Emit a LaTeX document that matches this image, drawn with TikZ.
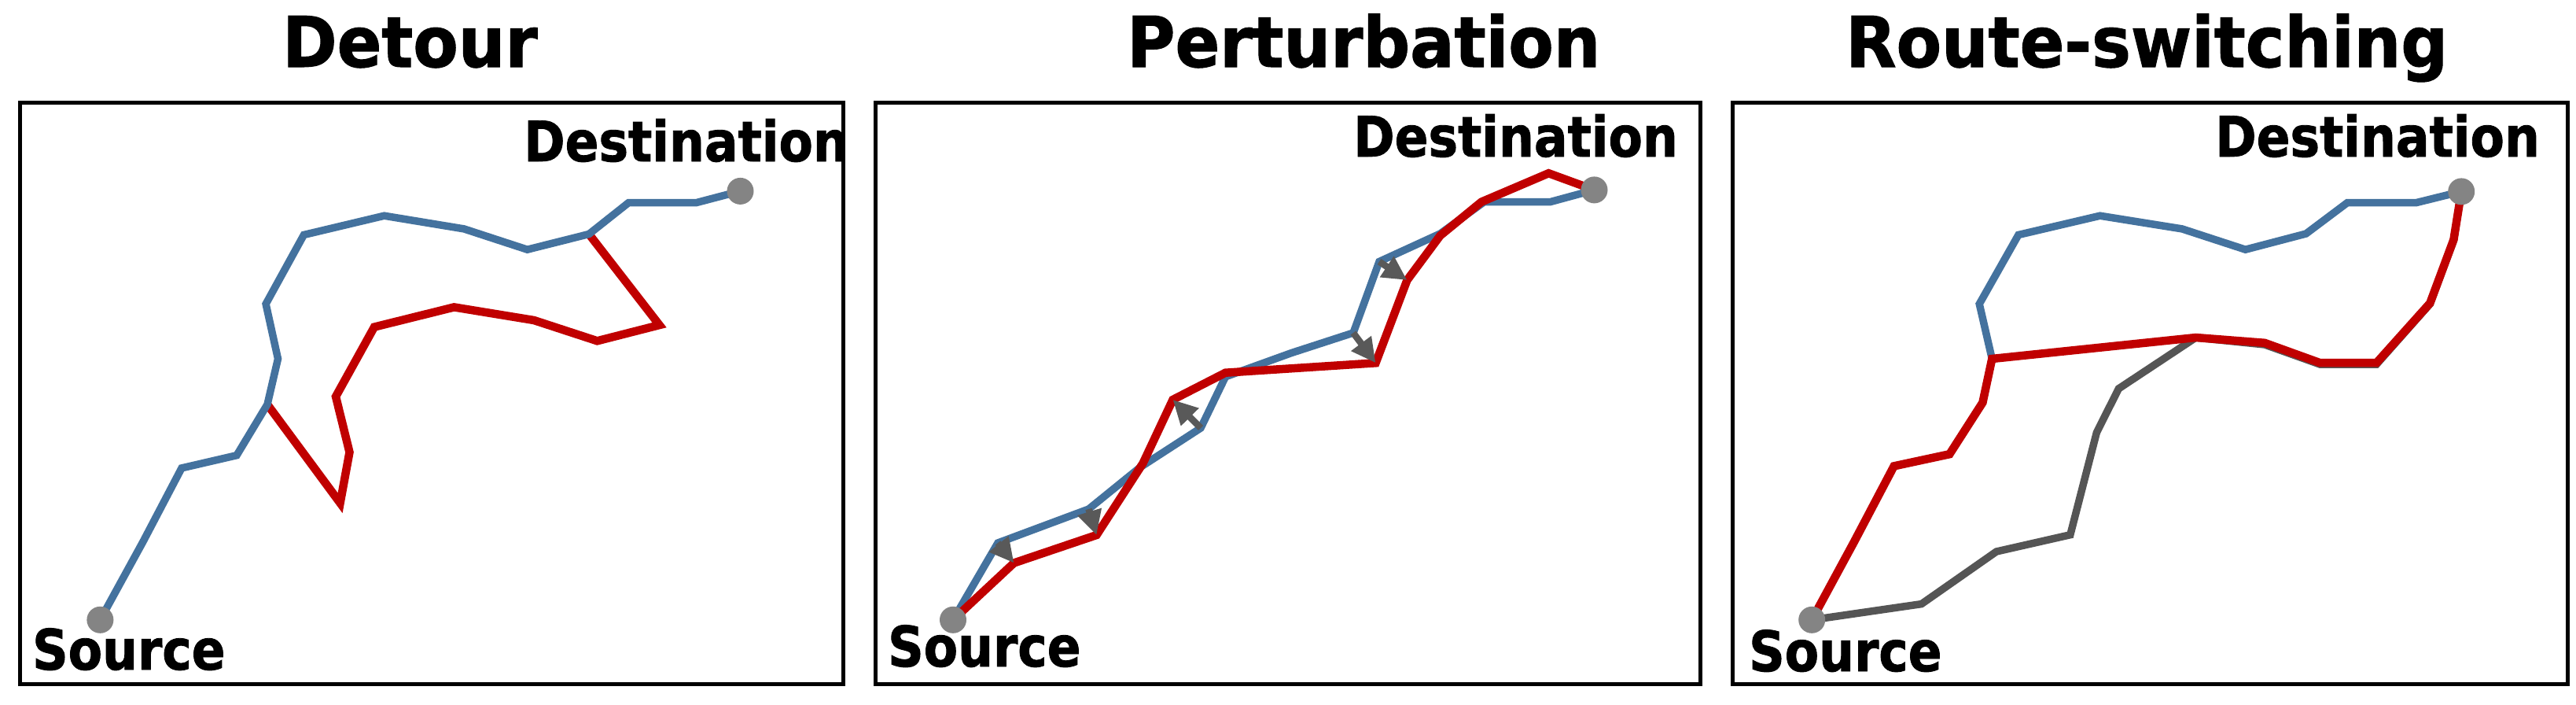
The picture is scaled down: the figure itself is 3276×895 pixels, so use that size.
\documentclass[tikz,border=0pt]{standalone}
\usepackage{fontspec}
\newfontfamily\titlefont[FakeStretch=0.94,BoldFeatures={FakeBold=1.2}]{DejaVu Sans}
\newfontfamily\labelfont[FakeStretch=0.89,BoldFeatures={FakeBold=1.2}]{DejaVu Sans}
\usetikzlibrary{arrows.meta}
\definecolor{pathblue}{RGB}{68,114,158}
\definecolor{pathred}{RGB}{192,0,0}
\definecolor{pathgray}{RGB}{85,85,85}
\definecolor{arrowgray}{RGB}{89,89,89}
\definecolor{dotgray}{RGB}{132,132,132}
\begin{document}
\begin{tikzpicture}[x=1pt,y=-1pt,
  panelbox/.style={draw=black,line width=5pt},
  bluepath/.style={draw=pathblue,line width=9.5pt},
  redpath/.style={draw=pathred,line width=10.5pt},
  graypath/.style={draw=pathgray,line width=9.5pt},
  endpoint/.style={circle,fill=dotgray,inner sep=0pt,minimum size=34pt},
  shiftarrow/.style={draw=arrowgray,line width=8.5pt,-{Triangle[length=31pt,width=30pt]}},
  paneltitle/.style={anchor=base west,inner sep=0pt,font={\titlefont\bfseries\fontsize{89pt}{100pt}\selectfont}},
  endlabel/.style={anchor=base west,inner sep=0pt,font={\labelfont\bfseries\fontsize{71pt}{80pt}\selectfont}}]
\useasboundingbox (0,0) rectangle (3276,895);
\fill[white] (0,0) rectangle (3276,895);

% ---------- titles ----------
\node[paneltitle] (t1) at (359,85) {Detour};
\node[paneltitle] (t2) at (1433,85) {Perturbation};
\node[paneltitle] (t3) at (2347,85) {Route-switching};

% ---------- panel 1: Detour ----------
\draw[panelbox] (25,130) rectangle (1072,869);
\coordinate (s1) at (127.4,787.8);
\coordinate (d1) at (941.5,242.9);
\coordinate (j1a) at (340,514);
\coordinate (j1b) at (749,297.5);
\draw[redpath] (j1a) -- (432.6,639.3) -- (444.5,574.7) -- (427,504) -- (476,415.6)
  -- (577.5,390.4) -- (679,407) -- (759.5,433.3) -- (838.6,413.1) -- (j1b);
\draw[bluepath] (s1) -- (182,688.3) -- (231,594.9) -- (301,578.7) -- (j1a)
  -- (353.5,456) -- (338.1,386.3) -- (386.4,298.5) -- (488.6,274.2) -- (590.1,290.9)
  -- (670.6,317.2) -- (j1b) -- (799.4,257.6) -- (885.5,257.6) -- (d1);
\node[endpoint] (src1) at (s1) {};
\node[endpoint] (dst1) at (d1) {};
\node[endlabel] (ls1) at (41,851) {Source};
\node[endlabel] (ld1) at (666,205) {Destination};

% ---------- panel 2: Perturbation ----------
\draw[panelbox] (1113,130) rectangle (2162,869);
\coordinate (s2) at (1212,787.8);
\coordinate (d2) at (2027.5,241.4);
\coordinate (b1) at (1269,690);
\coordinate (b2) at (1384.5,647);
\coordinate (b3) at (1527,544);
\coordinate (b4) at (1721,423);
\coordinate (b5) at (1754,332.5);
\coordinate (r1) at (1289.5,715.5);
\coordinate (r2) at (1394.5,680);
\coordinate (r3) at (1491.5,508);
\coordinate (r4) at (1749.5,461.3);
\coordinate (r5) at (1789.5,356);
\draw[bluepath] (s2) -- (b1) -- (b2) -- (1450,593.9) -- (b3) -- (1558.5,478.8)
  -- (1642.5,448.5) -- (b4) -- (b5) -- (1831.5,297) -- (1887.5,256.6)
  -- (1971.5,256.6) -- (d2);
\draw[redpath] (s2) -- (r1) -- (r2) -- (1453.5,588.8) -- (r3) -- (1558.5,473.7)
  -- (r4) -- (r5) -- (1831.5,299.5) -- (1884,256.6) -- (1969.4,220.2) -- (d2);
\draw[shiftarrow] (b1) -- (r1);
\draw[shiftarrow] (b2) -- (r2);
\draw[shiftarrow] (b3) -- (r3);
\draw[shiftarrow] (b4) -- (r4);
\draw[shiftarrow] (b5) -- (r5);
\node[endpoint] (src2) at (s2) {};
\node[endpoint] (dst2) at (d2) {};
\node[endlabel] (ls2) at (1129,847) {Source};
\node[endlabel] (ld2) at (1721,199) {Destination};

% ---------- panel 3: Route-switching ----------
\draw[panelbox] (2203,130) rectangle (3265,869);
\coordinate (s3) at (2304.2,787.8);
\coordinate (d3) at (3130.2,243.4);
\coordinate (j3) at (2533.3,456);
\coordinate (k3) at (2792.5,429);
\draw[graypath] (s3) -- (2443.6,767.6) -- (2538.9,701) -- (2632.8,679.7) -- (2666.4,549.5)
  -- (2694.4,493.9) -- (k3) -- (2880.1,438) -- (2950.2,463) -- (3022.3,463)
  -- (3090.3,386.3) -- (3120.4,305.5) -- (d3);
\draw[bluepath] (s3) -- (2358.1,688.3) -- (2408.6,592.4) -- (2479.3,577.2) -- (2521.4,511.6)
  -- (j3) -- (2517.2,386.3) -- (2566.9,298.5) -- (2670.6,274.2) -- (2775,290.9)
  -- (2855.6,317.2) -- (2932.7,297) -- (2985.2,257.6) -- (3072.8,257.6) -- (d3);
\draw[redpath] (s3) -- (2358.1,688.3) -- (2408.6,592.4) -- (2479.3,577.2) -- (2521.4,511.6)
  -- (j3) -- (k3) -- (2880.1,435.8) -- (2950.2,461.1) -- (3022.3,461.1)
  -- (3090.3,385.3) -- (3120.4,304.5) -- (d3);
\node[endpoint] (src3) at (s3) {};
\node[endpoint] (dst3) at (d3) {};
\node[endlabel] (ls3) at (2224,853) {Source};
\node[endlabel] (ld3) at (2817,199) {Destination};
\end{tikzpicture}
\end{document}
